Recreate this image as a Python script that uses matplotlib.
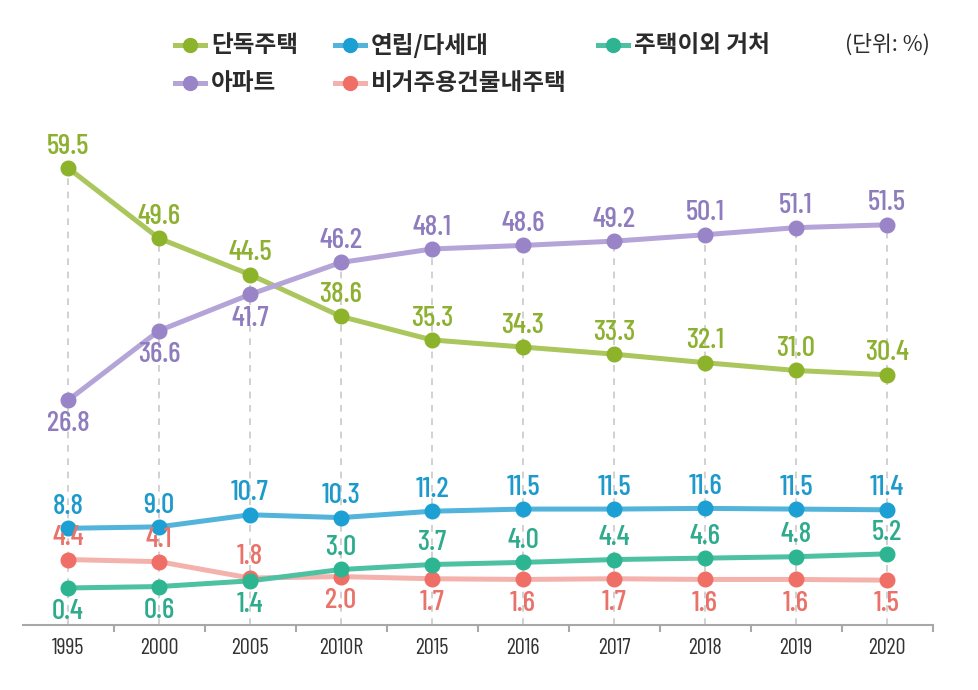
import matplotlib
matplotlib.use("Agg")
import matplotlib.pyplot as plt
from matplotlib.lines import Line2D
from matplotlib import font_manager

years = ["1995", "2000", "2005", "2010R", "2015", "2016", "2017", "2018", "2019", "2020"]
detached = [59.5, 49.6, 44.5, 38.6, 35.3, 34.3, 33.3, 32.1, 31.0, 30.4]
apartment = [26.8, 36.6, 41.7, 46.2, 48.1, 48.6, 49.2, 50.1, 51.1, 51.5]
rowhouse = [8.8, 9.0, 10.7, 10.3, 11.2, 11.5, 11.5, 11.6, 11.5, 11.4]
nonresidential = [4.4, 4.1, 1.8, 2.0, 1.7, 1.6, 1.7, 1.6, 1.6, 1.5]
other = [0.4, 0.6, 1.4, 3.0, 3.7, 4.0, 4.4, 4.6, 4.8, 5.2]

names = ["단독주택", "아파트", "연립/다세대", "비거주용건물내주택", "주택이외 거처"]
unit_text = "(단위: %)"

# label placement: +1 above, -1 below
pos_detached = [1] * 10
pos_apartment = [-1, -1, -1] + [1] * 7
pos_rowhouse = [1] * 10
pos_nonres = [1, 1, 1] + [-1] * 7
pos_other = [-1, -1, -1] + [1] * 7

avail = {f.name for f in font_manager.fontManager.ttflist}
num_font = "DejaVu Sans"
for cand in ["Barlow Condensed", "Roboto Condensed", "IBM Plex Sans Condensed",
             "Open Sans Condensed", "Liberation Sans Narrow"]:
    if cand in avail:
        num_font = cand
        break
kr_font = ["Noto Sans CJK KR", "DejaVu Sans"]

series = [
    (detached, pos_detached, "#aac65c", "#8db32a", "#8db030"),
    (apartment, pos_apartment, "#b4a4d8", "#9a84c8", "#8e7cbe"),
    (rowhouse, pos_rowhouse, "#52b4da", "#1c9fd3", "#1d9acb"),
    (nonresidential, pos_nonres, "#f4b2ad", "#ef6f67", "#e9736a"),
    (other, pos_other, "#4fc1a3", "#2db592", "#2eab8c"),
]

W, H = 979, 690
fig = plt.figure(figsize=(W / 100, H / 100), dpi=100)
ax_left, ax_right, ax_top, ax_bot = 22.5, 932.5, 130, 625
ax = fig.add_axes([ax_left / W, 1 - ax_bot / H, (ax_right - ax_left) / W, (ax_bot - ax_top) / H])
y0 = -4.81
ax.set_xlim(-0.5, len(years) - 0.5)
ax.set_ylim(y0, 64.84)

x = list(range(len(years)))

# vertical dashed guides from top value down to the axis
tops = [max(v) for v in zip(detached, apartment, rowhouse, nonresidential, other)]
ax.vlines(x, y0, tops, colors="#c9c9c9", linestyles=(0, (4, 4)), linewidth=1.2, zorder=1)

order = [3, 4, 2, 1, 0]
for idx in order:
    vals, poss, lc, mc, tc = series[idx]
    ax.plot(x, vals, color=lc, linewidth=3.6, zorder=2 + idx * 0.1,
            solid_capstyle="round")
    ax.plot(x, vals, linestyle="none", marker="o", markersize=10.5,
            markerfacecolor=mc, markeredgecolor=mc, zorder=3 + idx * 0.1)
    for xi, v, p in zip(x, vals, poss):
        ax.annotate(f"{v:.1f}", (xi, v), xytext=(0, 6 if p > 0 else -8),
                    textcoords="offset points", ha="center",
                    va="bottom" if p > 0 else "top",
                    fontsize=21, fontweight="medium", color=tc, family=num_font, zorder=5)

for s in ["left", "right", "top"]:
    ax.spines[s].set_visible(False)
ax.spines["bottom"].set_color("#a8a8a8")
ax.spines["bottom"].set_linewidth(1.5)
ax.set_yticks([])
ax.set_xticks(x)
ax.set_xticklabels(years, family=num_font, fontsize=16, color="#333333")
ax.tick_params(axis="x", length=0, pad=9)
# boundary ticks
ax.set_xticks([i + 0.5 for i in range(len(years))], minor=True)
ax.tick_params(axis="x", which="minor", length=5, width=1.5, color="#a8a8a8", direction="out")

# legend drawn manually
legend_items = [
    (0, 175, 45), (1, 175, 83), (2, 335, 45), (3, 335, 83), (4, 598, 45),
]
for idx, lx, ly in legend_items:
    _, _, lc, mc, _ = series[idx]
    yf = 1 - ly / H
    fig.add_artist(Line2D([lx / W, (lx + 30) / W], [yf, yf], transform=fig.transFigure,
                          color=lc, linewidth=3.6))
    fig.add_artist(Line2D([(lx + 15) / W], [yf], transform=fig.transFigure,
                          marker="o", markersize=10, markerfacecolor=mc,
                          markeredgecolor=mc, linestyle="none"))
    fig.text((lx + 36) / W, yf, names[idx], family=kr_font, fontsize=17,
             fontweight="bold", color="#2b2b2b", va="center", ha="left")
fig.text(930 / W, 1 - 45 / H, unit_text, family=kr_font, fontsize=15.5,
         color="#2b2b2b", va="center", ha="right")

fig.savefig("out.png", dpi=100, facecolor="white")
